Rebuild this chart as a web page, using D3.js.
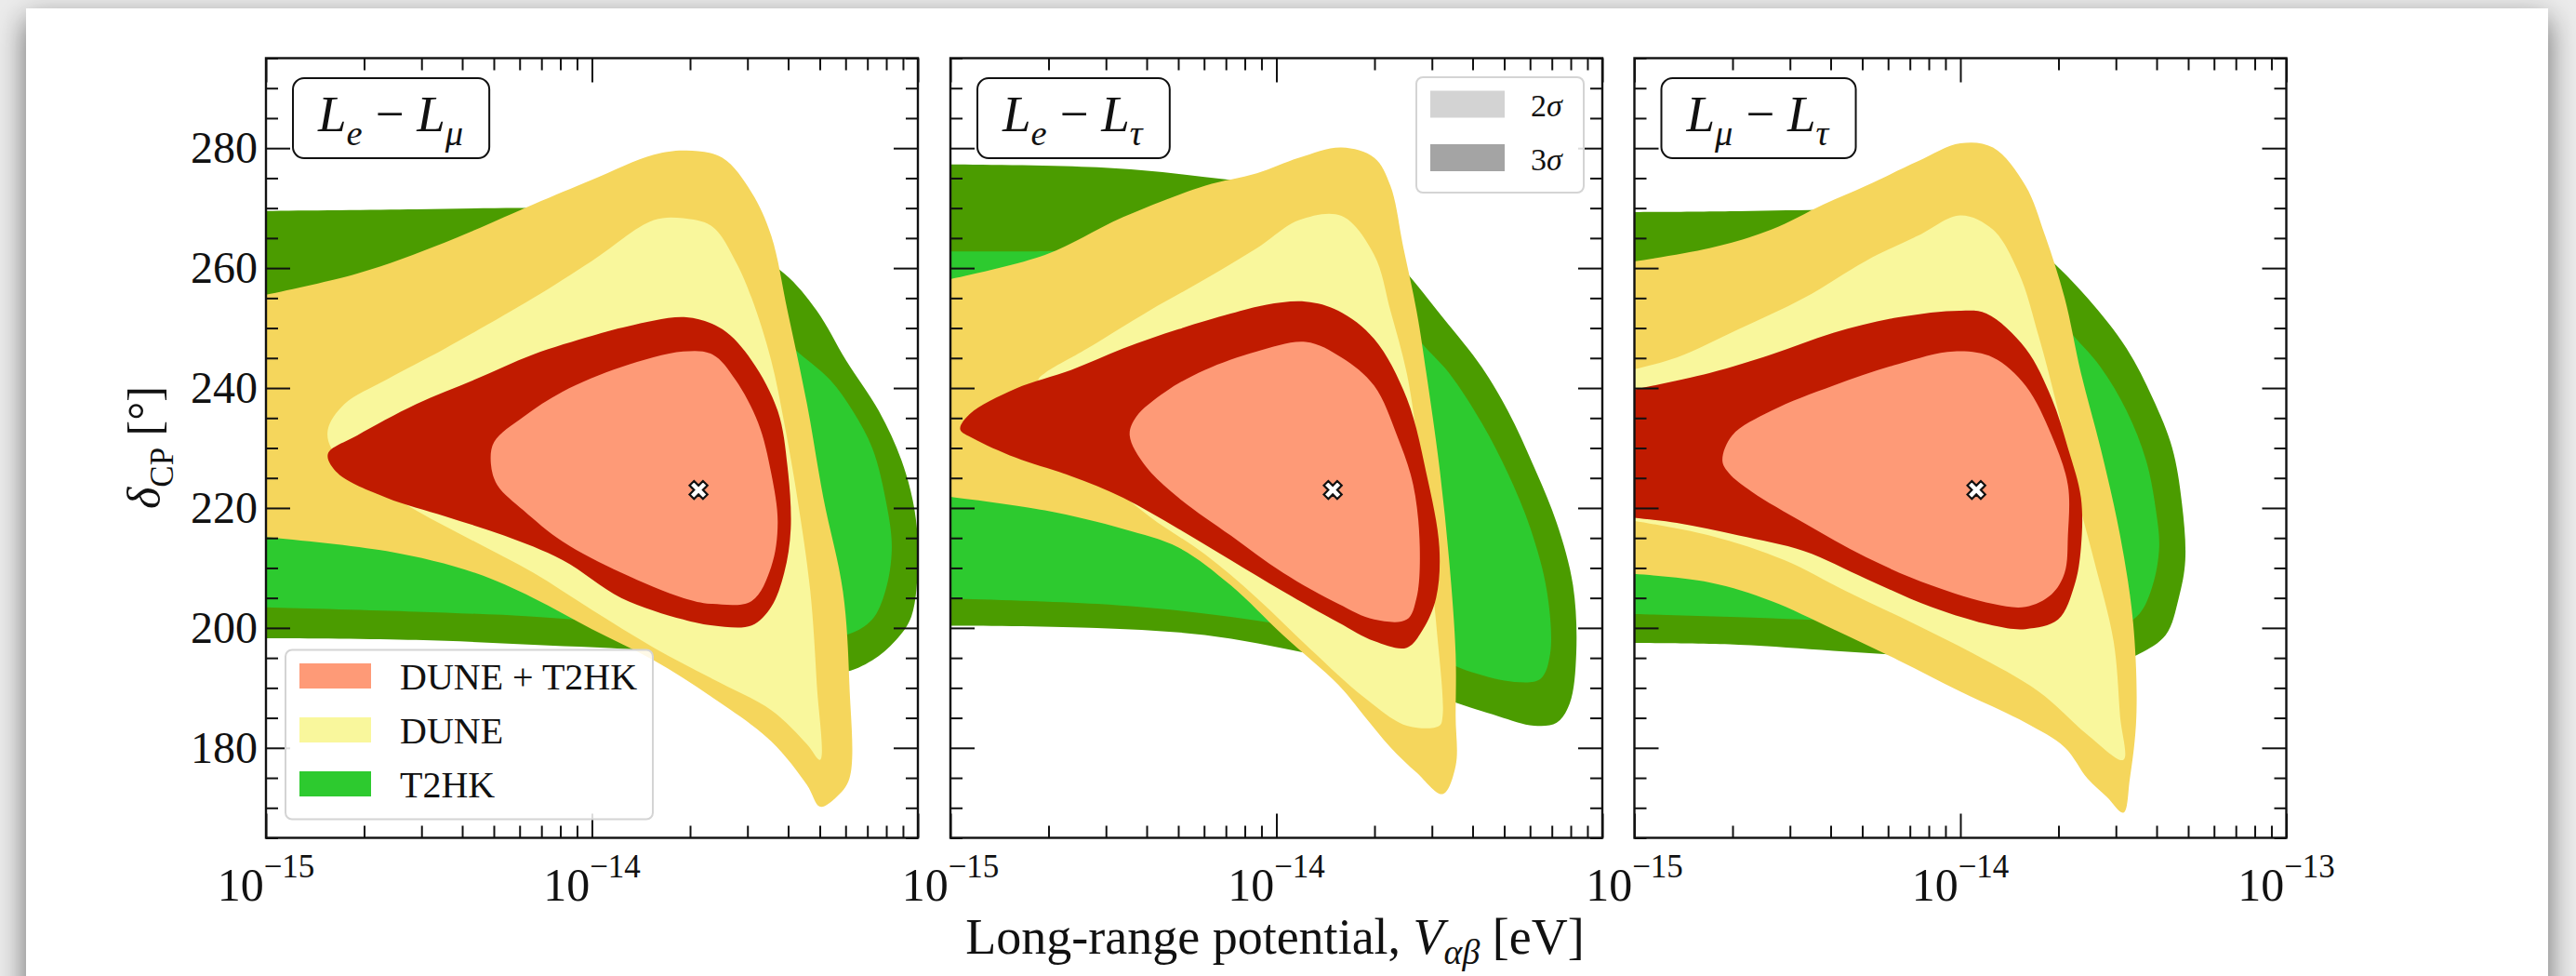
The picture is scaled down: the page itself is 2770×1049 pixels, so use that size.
<!DOCTYPE html>
<html>
<head>
<meta charset="utf-8">
<script src="https://cdn.jsdelivr.net/npm/d3@7"></script>
<style>
  html, body { margin: 0; padding: 0; background: #ececec; overflow: hidden; }
  #card { position: absolute; left: 28px; top: 9px; width: 2712px; height: 1120px; background: #fff;
          box-shadow: 0 12px 30px rgba(0,0,0,0.55); }
  svg { position: absolute; left: 0; top: 0; }
</style>
</head>
<body>
<div id="card"></div>
<svg id="fig" width="2770" height="1049"></svg>
<script>
// ---------------------------------------------------------------------------
// Allowed regions in the (V_alpha_beta, delta_CP) plane.
// Each point is [log10(V / eV), delta_CP in degrees].
// Regions that run off the left edge start and end just outside it.
// ---------------------------------------------------------------------------

// L_e - L_mu
const emu_T2HK_3s = [[-15.05,269.5],[-14.54,269.8],[-14.18,270.0],[-13.91,269.5],[-13.72,267.4],[-13.54,263.3],[-13.41,259.1],[-13.31,252.9],[-13.22,244.6],[-13.12,236.2],[-13.05,227.9],[-13.01,219.6],[-13.00,211.3],[-13.02,201.9],[-13.07,197.8],[-13.14,194.6],[-13.23,192.6],[-13.36,193.1],[-13.54,194.6],[-13.81,196.2],[-14.18,197.2],[-14.54,198.0],[-15.05,198.3]];
const emu_T2HK_2s = [[-15.05,254.4],[-14.54,256.0],[-14.09,258.1],[-13.72,257.0],[-13.49,252.9],[-13.38,246.6],[-13.27,241.4],[-13.20,236.2],[-13.14,230.0],[-13.10,221.7],[-13.08,213.4],[-13.10,206.1],[-13.14,201.4],[-13.21,199.0],[-13.30,198.8],[-13.45,199.3],[-13.81,200.4],[-14.18,201.9],[-14.54,202.7],[-15.05,203.5]];
const emu_DUNE_3s = [[-15.05,255.0],[-14.72,259.1],[-14.45,264.3],[-14.18,270.6],[-14.00,274.7],[-13.81,278.9],[-13.71,279.6],[-13.60,278.4],[-13.51,272.6],[-13.45,265.4],[-13.40,252.9],[-13.34,237.3],[-13.29,221.7],[-13.23,206.1],[-13.21,190.5],[-13.21,174.9],[-13.25,171.8],[-13.30,170.2],[-13.34,173.8],[-13.45,181.1],[-13.63,188.4],[-13.81,194.6],[-14.00,199.8],[-14.18,205.0],[-14.36,209.2],[-14.63,212.8],[-15.05,215.4]];
const emu_DUNE_2s = [[-14.81,233.1],[-14.76,237.3],[-14.63,241.4],[-14.45,246.6],[-14.18,255.0],[-14.00,261.2],[-13.81,268.0],[-13.72,268.3],[-13.63,266.9],[-13.56,261.2],[-13.51,255.0],[-13.45,244.6],[-13.41,234.2],[-13.37,221.7],[-13.33,206.1],[-13.31,190.5],[-13.30,178.0],[-13.34,180.6],[-13.45,186.3],[-13.63,191.5],[-13.81,196.7],[-14.00,203.0],[-14.18,209.2],[-14.36,214.4],[-14.54,219.6],[-14.72,225.8],[-14.80,230.0]];
const emu_COMB_3s = [[-14.81,229.0],[-14.72,232.1],[-14.54,237.3],[-14.36,241.4],[-14.18,245.6],[-14.00,248.7],[-13.89,250.3],[-13.71,251.8],[-13.60,249.8],[-13.51,244.6],[-13.43,236.2],[-13.40,226.9],[-13.39,216.5],[-13.41,209.2],[-13.45,203.5],[-13.51,200.4],[-13.63,200.4],[-13.72,201.4],[-13.91,205.0],[-14.09,211.3],[-14.27,215.4],[-14.45,218.6],[-14.63,221.7],[-14.78,225.8]];
const emu_COMB_2s = [[-14.31,227.4],[-14.30,231.0],[-14.21,235.2],[-14.09,239.4],[-13.91,243.5],[-13.72,246.1],[-13.63,245.6],[-13.56,241.4],[-13.49,234.2],[-13.45,225.8],[-13.43,217.5],[-13.45,210.2],[-13.51,204.5],[-13.63,204.0],[-13.72,205.0],[-13.91,209.2],[-14.09,214.4],[-14.21,219.6],[-14.29,223.8]];

// L_e - L_tau
const etau_T2HK_3s = [[-15.05,277.3],[-14.55,276.8],[-14.22,275.2],[-13.98,273.2],[-13.81,269.5],[-13.65,262.2],[-13.49,251.8],[-13.37,243.5],[-13.29,236.2],[-13.21,226.9],[-13.14,217.5],[-13.09,207.1],[-13.08,195.7],[-13.10,187.4],[-13.14,184.2],[-13.21,183.7],[-13.32,185.3],[-13.49,188.4],[-13.65,192.6],[-13.90,195.7],[-14.22,198.8],[-14.55,200.0],[-15.05,200.4]];
const etau_T2HK_2s = [[-15.05,262.8],[-14.71,262.8],[-14.47,263.3],[-14.22,263.8],[-13.90,262.2],[-13.63,256.0],[-13.57,248.7],[-13.47,242.5],[-13.37,234.2],[-13.29,225.8],[-13.22,216.5],[-13.17,206.1],[-13.16,195.7],[-13.19,191.5],[-13.27,191.0],[-13.40,192.6],[-13.57,196.2],[-13.90,199.8],[-14.22,202.4],[-14.55,204.0],[-15.05,205.0]];
const etau_DUNE_3s = [[-15.05,257.6],[-14.71,262.2],[-14.47,268.5],[-14.22,273.7],[-14.06,275.8],[-13.93,278.4],[-13.80,280.1],[-13.70,278.4],[-13.65,273.7],[-13.61,263.3],[-13.57,252.9],[-13.54,242.5],[-13.50,226.9],[-13.47,211.3],[-13.45,195.7],[-13.45,185.3],[-13.45,177.0],[-13.49,172.3],[-13.57,175.9],[-13.65,180.1],[-13.73,185.3],[-13.81,190.5],[-13.98,198.8],[-14.14,207.1],[-14.30,213.4],[-14.47,216.5],[-14.71,219.6],[-15.05,222.2]];
const etau_DUNE_2s = [[-14.73,241.4],[-14.71,242.5],[-14.58,246.6],[-14.39,252.9],[-14.22,258.1],[-14.06,263.3],[-13.93,268.0],[-13.80,268.7],[-13.70,262.2],[-13.65,252.9],[-13.60,242.5],[-13.57,232.1],[-13.54,216.5],[-13.51,200.9],[-13.49,185.3],[-13.50,183.7],[-13.60,183.7],[-13.73,188.4],[-13.90,196.7],[-14.06,205.0],[-14.22,212.3],[-14.39,218.6],[-14.55,225.8],[-14.71,234.2]];
const etau_COMB_3s = [[-14.97,233.1],[-14.94,235.7],[-14.80,239.9],[-14.63,243.0],[-14.47,246.6],[-14.30,249.8],[-14.14,252.4],[-14.03,253.9],[-13.91,254.4],[-13.81,252.9],[-13.70,248.2],[-13.60,238.3],[-13.54,225.8],[-13.50,213.4],[-13.51,205.0],[-13.55,199.8],[-13.60,196.7],[-13.70,197.8],[-13.81,200.9],[-13.98,206.1],[-14.14,211.3],[-14.30,216.5],[-14.47,221.7],[-14.63,225.3],[-14.80,228.4],[-14.93,231.6]];
const etau_COMB_2s = [[-14.45,232.1],[-14.43,235.2],[-14.34,239.4],[-14.22,243.0],[-14.06,246.1],[-13.91,247.7],[-13.80,245.1],[-13.70,240.4],[-13.63,232.1],[-13.58,223.8],[-13.56,213.4],[-13.57,205.0],[-13.60,201.4],[-13.70,201.4],[-13.81,204.0],[-13.98,209.2],[-14.14,215.4],[-14.30,221.7],[-14.40,226.9]];

// L_mu - L_tau
const mutau_T2HK_3s = [[-15.05,269.3],[-14.68,269.5],[-14.39,269.7],[-14.09,269.7],[-13.90,269.0],[-13.74,262.2],[-13.61,255.0],[-13.49,246.6],[-13.41,238.3],[-13.35,230.0],[-13.32,220.6],[-13.31,211.3],[-13.33,205.0],[-13.37,198.8],[-13.45,195.7],[-13.51,194.6],[-13.80,194.8],[-14.09,195.2],[-14.39,196.2],[-14.68,197.2],[-15.05,197.5]];
const mutau_T2HK_2s = [[-15.05,260.4],[-14.77,262.2],[-14.58,264.5],[-14.29,266.2],[-14.00,264.8],[-13.80,259.1],[-13.67,249.8],[-13.57,243.5],[-13.49,236.2],[-13.43,227.9],[-13.40,219.6],[-13.39,213.4],[-13.41,207.1],[-13.45,202.4],[-13.51,200.4],[-13.80,199.8],[-14.19,200.7],[-14.58,201.6],[-15.05,202.4]];
const mutau_DUNE_3s = [[-15.05,260.7],[-14.77,263.3],[-14.58,266.4],[-14.42,270.6],[-14.29,273.7],[-14.13,277.8],[-14.00,280.8],[-13.90,280.1],[-13.80,273.7],[-13.74,265.4],[-13.68,255.0],[-13.63,242.5],[-13.57,230.0],[-13.51,215.4],[-13.47,200.9],[-13.46,185.3],[-13.48,174.9],[-13.50,169.2],[-13.55,171.8],[-13.61,174.9],[-13.68,180.1],[-13.80,184.2],[-14.00,189.4],[-14.19,194.6],[-14.39,199.8],[-14.58,204.5],[-14.77,207.6],[-15.05,209.2]];
const mutau_DUNE_2s = [[-15.05,242.5],[-14.87,245.1],[-14.68,249.8],[-14.48,255.0],[-14.29,261.2],[-14.13,265.4],[-14.00,268.8],[-13.90,266.4],[-13.82,259.1],[-13.76,248.7],[-13.70,236.2],[-13.65,223.8],[-13.59,211.3],[-13.53,197.8],[-13.51,185.3],[-13.50,178.0],[-13.61,182.2],[-13.76,189.4],[-13.96,195.7],[-14.15,200.9],[-14.35,206.1],[-14.54,211.3],[-14.77,215.4],[-15.05,218.3]];
const mutau_COMB_3s = [[-15.05,239.2],[-14.77,242.5],[-14.58,245.6],[-14.39,249.2],[-14.19,251.8],[-14.00,252.9],[-13.92,252.4],[-13.80,246.6],[-13.72,238.3],[-13.67,230.0],[-13.63,221.7],[-13.63,213.4],[-13.65,207.1],[-13.70,201.4],[-13.80,199.8],[-13.90,200.4],[-14.09,203.5],[-14.29,208.2],[-14.48,212.8],[-14.68,215.4],[-14.87,217.5],[-15.05,218.6]];
const mutau_COMB_2s = [[-14.73,227.9],[-14.70,232.1],[-14.58,236.2],[-14.39,240.4],[-14.19,244.0],[-14.02,246.1],[-13.90,245.1],[-13.80,240.4],[-13.72,232.1],[-13.67,223.8],[-13.67,215.4],[-13.68,209.2],[-13.72,205.6],[-13.80,203.5],[-13.90,204.0],[-14.09,207.1],[-14.29,211.8],[-14.48,217.5],[-14.64,222.7],[-14.71,225.8]];

// Best-fit points (log10 V, delta_CP)
const bestFitLogV  = [-13.673, -13.827, -13.951];
const bestFitDelta = [223, 223, 223];

// Axes
const xDomain = [1e-15, 1e-13];
const yDomain = [165, 295];
const yMajorTicks = [180, 200, 220, 240, 260, 280];
const xMajorExp = [-15, -14, -13];
const xLabelExp = [[-15, -14], [-15, -14], [-15, -14, -13]];

// Legends
const experiments = ["DUNE + T2HK", "DUNE", "T2HK"];
const sigmaLabels = ["2", "3"];

// Colours: [2 sigma, 3 sigma]
const colT2HK = ["#2dca2f", "#4b9c00"];
const colDUNE = ["#f9f79c", "#f5d65c"];
const colCOMB = ["#fe9a77", "#c01b00"];
const sigmaGreys = ["#d3d3d3", "#a4a4a4"];

const panelTitles = [
  [{t:"L", it:1}, {t:"e", it:1, sub:1}, {t:" \u2212 "}, {t:"L", it:1}, {t:"\u03bc", it:1, sub:1}],
  [{t:"L", it:1}, {t:"e", it:1, sub:1}, {t:" \u2212 "}, {t:"L", it:1}, {t:"\u03c4", it:1, sub:1}],
  [{t:"L", it:1}, {t:"\u03bc", it:1, sub:1}, {t:" \u2212 "}, {t:"L", it:1}, {t:"\u03c4", it:1, sub:1}]
];

const panels = [
  {layers: [[emu_T2HK_3s, colT2HK[1]], [emu_T2HK_2s, colT2HK[0]], [emu_DUNE_3s, colDUNE[1]], [emu_DUNE_2s, colDUNE[0]], [emu_COMB_3s, colCOMB[1]], [emu_COMB_2s, colCOMB[0]]]},
  {layers: [[etau_T2HK_3s, colT2HK[1]], [etau_T2HK_2s, colT2HK[0]], [etau_DUNE_3s, colDUNE[1]], [etau_DUNE_2s, colDUNE[0]], [etau_COMB_3s, colCOMB[1]], [etau_COMB_2s, colCOMB[0]]]},
  {layers: [[mutau_T2HK_3s, colT2HK[1]], [mutau_T2HK_2s, colT2HK[0]], [mutau_DUNE_3s, colDUNE[1]], [mutau_DUNE_2s, colDUNE[0]], [mutau_COMB_3s, colCOMB[1]], [mutau_COMB_2s, colCOMB[0]]]}
];

// ---------------------------------------------------------------------------
// Layout
// ---------------------------------------------------------------------------
const FONT = "'Liberation Serif', 'Times New Roman', serif";
const panelLeft = [286, 1022, 1757.5];
const panelTop = 62.5;
const W = 701, H = 838;
const majorLen = 26, minorLen = 13;

const svg = d3.select("#fig");

const x = d3.scaleLog().domain(xDomain).range([0, W]);
const y = d3.scaleLinear().domain(yDomain).range([H, 0]);

// Closed contours are splined all round; contours cut by the left edge are
// splined along their visible boundary and closed with a straight edge off-axis.
const lineClosed = d3.line()
  .x(d => x(Math.pow(10, d[0])))
  .y(d => y(d[1]))
  .curve(d3.curveCatmullRomClosed.alpha(0.5));
const lineOpen = d3.line()
  .x(d => x(Math.pow(10, d[0])))
  .y(d => y(d[1]))
  .curve(d3.curveCatmullRom.alpha(0.5));
const regionPath = pts => (pts[0][0] < -15 ? lineOpen(pts) + "Z" : lineClosed(pts));

const xMajor = xMajorExp.map(e => Math.pow(10, e));
const xMinor = [];
[-15, -14].forEach(e => { for (let k = 2; k <= 9; k++) xMinor.push(k * Math.pow(10, e)); });
const yMinor = d3.range(yDomain[0], yDomain[1] + 0.1, 5).filter(v => !yMajorTicks.includes(v));

// rich text helper: parts with italic / subscript / superscript
function rich(textSel, parts, size, subShift = 0.28) {
  let shift = 0;
  parts.forEach(p => {
    const target = p.sub ? size * subShift : (p.sup ? -size * 0.5 : 0);
    const ts = textSel.append("tspan").text(p.t)
      .attr("dy", target - shift)
      .attr("font-size", (p.sub || p.sup) ? size * 0.7 : size);
    if (p.it) ts.attr("font-style", "italic");
    shift = target;
  });
}

function styleTicks(g) {
  g.select(".domain").remove();
  g.selectAll(".tick line").attr("stroke", "#111").attr("stroke-width", 2);
}

panels.forEach((p, i) => {
  const g = svg.append("g").attr("transform", `translate(${panelLeft[i]},${panelTop})`);

  const clipId = "clip" + i;
  g.append("clipPath").attr("id", clipId)
    .append("rect").attr("width", W).attr("height", H);

  const regions = g.append("g").attr("clip-path", `url(#${clipId})`);
  p.layers.forEach(([pts, col]) => {
    regions.append("path").attr("d", regionPath(pts)).attr("fill", col).attr("stroke", "none");
  });

  // best fit marker
  regions.append("path")
    .attr("d", d3.symbol(d3.symbolCross, 230)())
    .attr("transform", `translate(${x(Math.pow(10, bestFitLogV[i]))},${y(bestFitDelta[i])}) rotate(45)`)
    .attr("fill", "#fff").attr("stroke", "#111").attr("stroke-width", 2.2);

  // ticks on all four sides, pointing inward
  g.append("g").attr("transform", `translate(0,${H})`)
    .call(d3.axisBottom(x).tickValues(xMajor).tickSize(-majorLen).tickFormat("")).call(styleTicks);
  g.append("g").attr("transform", `translate(0,${H})`)
    .call(d3.axisBottom(x).tickValues(xMinor).tickSize(-minorLen).tickFormat("")).call(styleTicks);
  g.append("g")
    .call(d3.axisTop(x).tickValues(xMajor).tickSize(-majorLen).tickFormat("")).call(styleTicks);
  g.append("g")
    .call(d3.axisTop(x).tickValues(xMinor).tickSize(-minorLen).tickFormat("")).call(styleTicks);

  const yl = g.append("g")
    .call(d3.axisLeft(y).tickValues(yMajorTicks).tickSize(-majorLen).tickPadding(9)
      .tickFormat(i === 0 ? d3.format("d") : ""))
    .call(styleTicks);
  yl.attr("font-family", FONT).attr("font-size", 48);
  yl.selectAll(".tick text").attr("fill", "#111");
  g.append("g")
    .call(d3.axisLeft(y).tickValues(yMinor).tickSize(-minorLen).tickFormat("")).call(styleTicks);
  g.append("g").attr("transform", `translate(${W},0)`)
    .call(d3.axisRight(y).tickValues(yMajorTicks).tickSize(-majorLen).tickFormat("")).call(styleTicks);
  g.append("g").attr("transform", `translate(${W},0)`)
    .call(d3.axisRight(y).tickValues(yMinor).tickSize(-minorLen).tickFormat("")).call(styleTicks);

  // frame
  g.append("rect").attr("width", W).attr("height", H)
    .attr("fill", "none").attr("stroke", "#111").attr("stroke-width", 2.4);

  // x tick labels 10^n
  xLabelExp[i].forEach(e => {
    const t = g.append("text")
      .attr("x", x(Math.pow(10, e))).attr("y", H + 67)
      .attr("text-anchor", "middle").attr("font-family", FONT).attr("fill", "#111");
    t.append("tspan").text("10").attr("font-size", 50);
    t.append("tspan").text("\u2212" + Math.abs(e)).attr("font-size", 35).attr("dy", -25);
  });

  // title box
  const tb = g.append("g");
  const tt = tb.append("text").attr("x", 56).attr("y", 78)
    .attr("font-family", FONT).attr("fill", "#111");
  rich(tt, panelTitles[i], 55);
  const bb = tt.node().getBBox();
  tb.insert("rect", "text")
    .attr("x", 29).attr("y", 21.5)
    .attr("width", bb.width + 54).attr("height", 86)
    .attr("rx", 12).attr("ry", 12)
    .attr("fill", "#fff").attr("stroke", "#111").attr("stroke-width", 2);
});

// Experiment legend (first panel)
{
  const g = svg.append("g").attr("transform", `translate(${panelLeft[0]},${panelTop})`);
  const lx = 21, ly = 636;
  g.append("rect").attr("x", lx).attr("y", ly).attr("width", 395).attr("height", 182)
    .attr("rx", 7).attr("fill", "#fff").attr("fill-opacity", 0.85)
    .attr("stroke", "#d4d4d4").attr("stroke-width", 2);
  const cols = [colCOMB[0], colDUNE[0], colT2HK[0]];
  experiments.forEach((name, k) => {
    const cy = ly + 28 + k * 58;
    g.append("rect").attr("x", lx + 15).attr("y", cy - 13.5).attr("width", 77).attr("height", 27).attr("fill", cols[k]);
    g.append("text").attr("x", lx + 123).attr("y", cy + 14)
      .attr("font-family", FONT).attr("font-size", 40).attr("fill", "#111").text(name);
  });
}

// Confidence-level legend (second panel)
{
  const g = svg.append("g").attr("transform", `translate(${panelLeft[1]},${panelTop})`);
  const lx = W - 200, ly = 20.5;
  g.append("rect").attr("x", lx).attr("y", ly).attr("width", 180).attr("height", 124)
    .attr("rx", 7).attr("fill", "#fff").attr("fill-opacity", 0.85)
    .attr("stroke", "#d4d4d4").attr("stroke-width", 2);
  sigmaLabels.forEach((s, k) => {
    const cy = ly + 29 + k * 57.5;
    g.append("rect").attr("x", lx + 15).attr("y", cy - 14.5).attr("width", 80).attr("height", 29).attr("fill", sigmaGreys[k]);
    const t = g.append("text").attr("x", lx + 123).attr("y", cy + 13)
      .attr("font-family", FONT).attr("font-size", 34).attr("fill", "#111");
    t.append("tspan").text(s);
    t.append("tspan").text("\u03c3").attr("font-style", "italic");
  });
}

// Axis titles
{
  const t = svg.append("text")
    .attr("transform", "translate(172,481) rotate(-90)")
    .attr("text-anchor", "middle").attr("font-family", FONT).attr("fill", "#111");
  rich(t, [{t:"\u03b4", it:1}, {t:"CP", sub:1}, {t:" [\u00b0]"}], 50);

  const xt = svg.append("text")
    .attr("x", 1371).attr("y", 1025)
    .attr("text-anchor", "middle").attr("font-family", FONT).attr("fill", "#111");
  rich(xt, [{t:"Long-range potential, "}, {t:"V", it:1}, {t:"\u03b1\u03b2", it:1, sub:1}, {t:" [eV]"}], 54, 0.2);
}
</script>
</body>
</html>
